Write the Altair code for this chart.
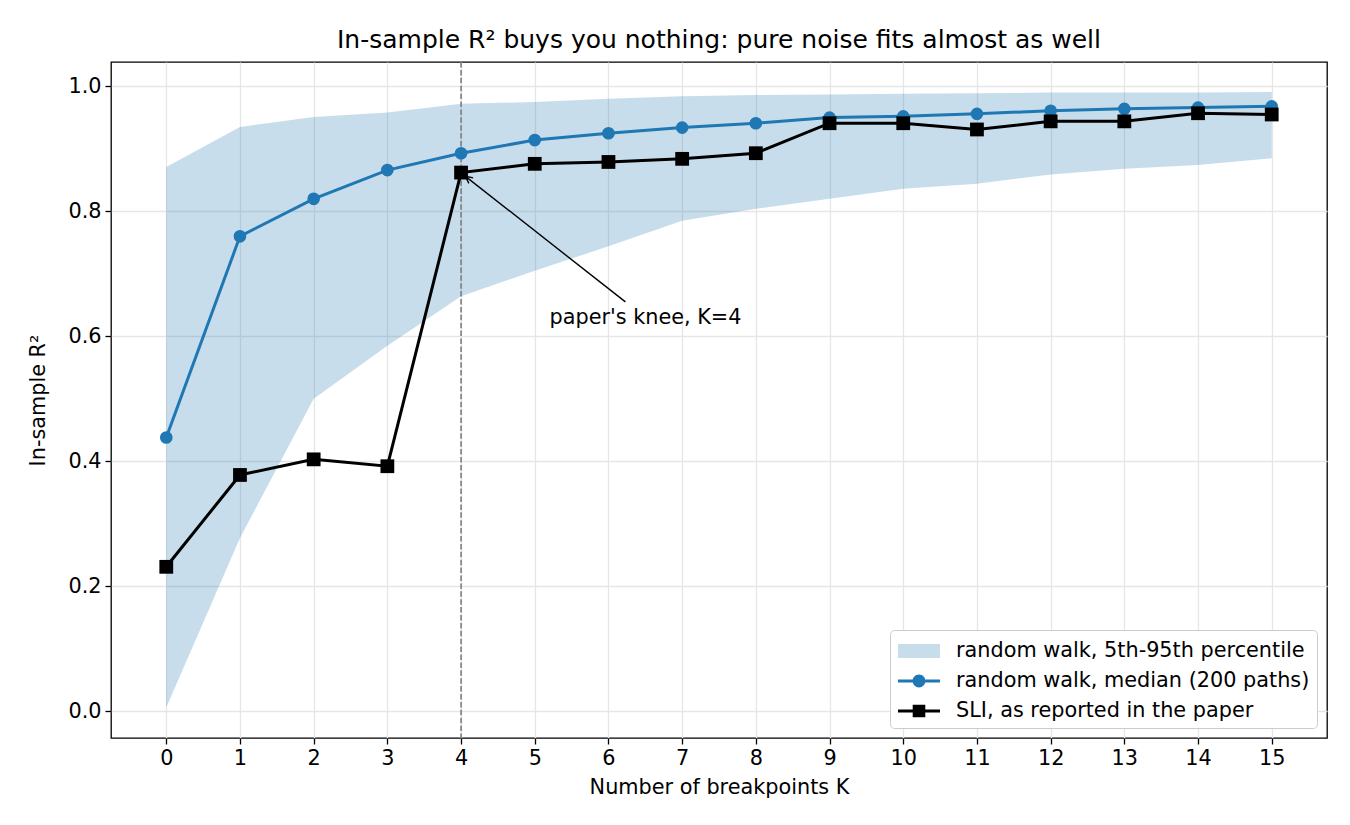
import math

import altair as alt
import pandas as pd

# values
K = list(range(16))
band_lo = [0.006, 0.277, 0.500, 0.585, 0.664, 0.705, 0.744, 0.785, 0.804, 0.820,
           0.836, 0.844, 0.859, 0.868, 0.874, 0.885]
band_hi = [0.871, 0.935, 0.951, 0.958, 0.972, 0.975, 0.980, 0.984, 0.986, 0.987,
           0.988, 0.989, 0.990, 0.990, 0.990, 0.991]
median_r2 = [0.438, 0.760, 0.820, 0.866, 0.893, 0.914, 0.925, 0.934, 0.941, 0.950,
             0.952, 0.956, 0.961, 0.964, 0.966, 0.968]
sli_r2 = [0.231, 0.378, 0.403, 0.392, 0.862, 0.876, 0.879, 0.884, 0.893, 0.941,
          0.941, 0.931, 0.944, 0.944, 0.957, 0.955]
y_ticks = [0.0, 0.2, 0.4, 0.6, 0.8, 1.0]

series_names = [
    "random walk, 5th-95th percentile",
    "random walk, median (200 paths)",
    "SLI, as reported in the paper",
]
knee_k = 4
note_text = "paper's knee, K=4"
note_xy = (5.2, 0.62)
arrow_tail = (6.23, 0.655)
arrow_tip = (4.06, 0.856)

FONT = "DejaVu Sans"
FS = 20.8
BLUE = "#1f77b4"
W, H = 1216, 676
x_dom = [-0.75, 15.75]
y_dom = [-0.043, 1.039]

band = pd.DataFrame({"K": K, "lo": band_lo, "hi": band_hi})
median = pd.DataFrame({"K": K, "r2": median_r2})
sli = pd.DataFrame({"K": K, "r2": sli_r2})

x_scale = alt.Scale(domain=x_dom, nice=False, zero=False)
y_scale = alt.Scale(domain=y_dom, nice=False, zero=False)
x_axis = alt.Axis(values=K, format="d", title="Number of breakpoints K")
y_axis = alt.Axis(values=y_ticks, format=".1f", title="In-sample R²")


def xe(field):
    return alt.X(field, type="quantitative", scale=x_scale, axis=x_axis)


def ye(field):
    return alt.Y(field, type="quantitative", scale=y_scale, axis=y_axis)


band_layer = alt.Chart(band).mark_area(color=BLUE, opacity=0.25).encode(
    x=xe("K"), y=ye("lo"), y2="hi"
)

vline = alt.Chart(pd.DataFrame({"K": [knee_k]})).mark_rule(
    color="#7f7f7f", strokeDash=[5.5, 2.4], strokeWidth=1.6
).encode(x=xe("K"))

median_line = alt.Chart(median).mark_line(color=BLUE, strokeWidth=3).encode(
    x=xe("K"), y=ye("r2")
)
median_pts = alt.Chart(median).mark_point(
    shape="circle", filled=True, size=160, color=BLUE, opacity=1
).encode(x=xe("K"), y=ye("r2"))

sli_line = alt.Chart(sli).mark_line(color="black", strokeWidth=3).encode(
    x=xe("K"), y=ye("r2")
)
sli_pts = alt.Chart(sli).mark_point(
    shape="square", filled=True, size=190, color="black", opacity=1
).encode(x=xe("K"), y=ye("r2"))

# annotation arrow
arrow = pd.DataFrame({
    "x": [arrow_tail[0]], "y": [arrow_tail[1]],
    "x2": [arrow_tip[0]], "y2": [arrow_tip[1]],
})
arrow_line = alt.Chart(arrow).mark_rule(color="black", strokeWidth=1.4).encode(
    x=xe("x"), y=ye("y"), x2="x2", y2="y2"
)
px_x = W / (x_dom[1] - x_dom[0])
px_y = H / (y_dom[1] - y_dom[0])
dx = (arrow_tip[0] - arrow_tail[0]) * px_x
dy = -(arrow_tip[1] - arrow_tail[1]) * px_y
head_angle = math.degrees(math.atan2(dx, -dy)) % 360
arrow_head = alt.Chart(pd.DataFrame({"x": [arrow_tip[0]], "y": [arrow_tip[1]]})).mark_point(
    shape="M -0.5 1 L 0 0 L 0.5 1", filled=False, stroke="black", strokeWidth=1.4,
    size=196, angle=head_angle, opacity=1,
).encode(x=xe("x"), y=ye("y"))

note = alt.Chart(pd.DataFrame({"x": [note_xy[0]], "y": [note_xy[1]], "t": [note_text]})).mark_text(
    align="left", baseline="alphabetic", fontSize=FS, font=FONT, color="black"
).encode(x=xe("x"), y=ye("y"), text="t:N")

# legend from an empty layer, symbols drawn as custom paths
legend_paths = [
    "M -1.5 -0.5 L 1.5 -0.5 L 1.5 0.5 L -1.5 0.5 Z",
    "M -1.5 -0.1 L -0.45 -0.1 L -0.45 0.1 L -1.5 0.1 Z "
    "M 0.45 -0.1 L 1.5 -0.1 L 1.5 0.1 L 0.45 0.1 Z "
    "M 0.46 0 A 0.46 0.46 0 1 1 -0.46 0 A 0.46 0.46 0 1 1 0.46 0 Z",
    "M -1.5 -0.1 L 1.5 -0.1 L 1.5 0.1 L -1.5 0.1 Z "
    "M -0.45 -0.45 L 0.45 -0.45 L 0.45 0.45 L -0.45 0.45 Z",
]
legend_colors = ["#c7ddec", BLUE, "black"]
leg = alt.Legend(
    title=None, orient="bottom-right", offset=10, labelFontSize=FS, labelFont=FONT,
    labelColor="black", labelLimit=0, symbolSize=784, symbolStrokeWidth=0, symbolOpacity=1,
    symbolOffset=8, rowPadding=6, labelOffset=23, padding=7, fillColor="white",
    strokeColor="#cccccc", cornerRadius=4,
)
legend_df = pd.DataFrame({"x": [0, 0, 0], "y": [0, 0, 0], "series": series_names})
legend_layer = alt.Chart(legend_df).transform_filter("false").mark_point(filled=True).encode(
    x=xe("x"), y=ye("y"),
    color=alt.Color("series:N", scale=alt.Scale(domain=series_names, range=legend_colors), legend=leg),
    shape=alt.Shape("series:N", scale=alt.Scale(domain=series_names, range=legend_paths), legend=leg),
)

chart = (
    alt.layer(
        band_layer, vline, median_line, median_pts, sli_line, sli_pts,
        arrow_line, arrow_head, note, legend_layer,
    )
    .properties(
        width=W, height=H,
        title=alt.TitleParams(
            "In-sample R² buys you nothing: pure noise fits almost as well",
            font=FONT, fontSize=25, fontWeight="normal", color="black", offset=8,
        ),
        autosize=alt.AutoSizeParams(type="none"),
        padding={"left": 103, "top": 54, "right": 15, "bottom": 79},
    )
    .configure_axis(
        grid=True, gridColor="#e6e6e6", gridWidth=1.3, domain=False,
        tickColor="black", tickSize=6, tickWidth=1.3,
        labelFont=FONT, labelFontSize=FS, labelColor="black", labelPadding=4,
        titleFont=FONT, titleFontSize=FS, titleFontWeight="normal", titleColor="black",
    )
    .configure_axisY(titlePadding=19)
    .configure_axisX(titlePadding=10)
    .configure_view(stroke="black", strokeWidth=1.3)
)

chart.save("out.html", embed_options={"renderer": "svg", "actions": False})
